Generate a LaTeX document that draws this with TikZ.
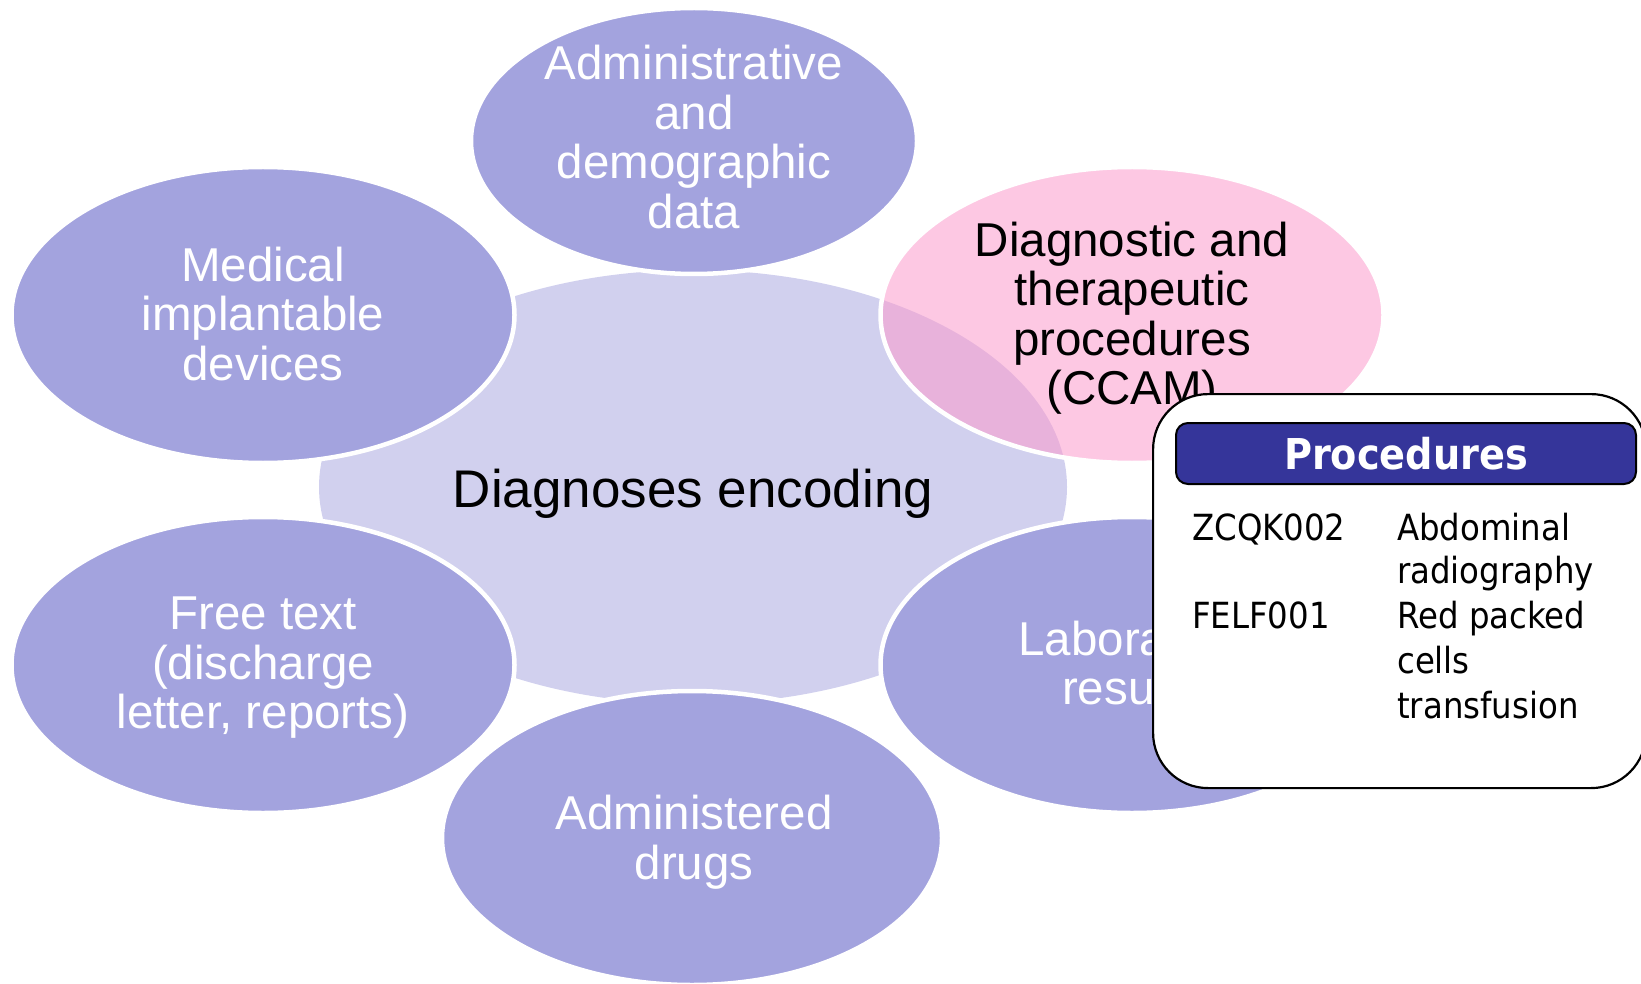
\documentclass[tikz,border=0pt]{standalone}
\usepackage{fontspec}
\setmainfont{Liberation Sans}
\newfontfamily\tahoma[FakeStretch=0.9]{DejaVu Sans}
\usetikzlibrary{shapes.geometric}
\definecolor{satfill}{HTML}{A3A3DE}
\definecolor{corefill}{HTML}{D1D0EE}
\definecolor{pinkfill}{HTML}{FB9BCC}
\definecolor{hdrfill}{HTML}{35359A}
\begin{document}
\begin{tikzpicture}[x=1pt,y=-1pt,
  blob/.style={ellipse, inner sep=0pt, draw=white, line width=4.5pt, fill=satfill},
  bigblob/.style={blob, minimum width=503pt, minimum height=296pt},
  sattxt/.style={text=white, align=center, inner sep=0pt, font=\fontsize{47.5}{49.5}\selectfont},
  boxtxt/.style={anchor=base west, inner sep=0pt, font=\tahoma\fontsize{36}{44.5}\selectfont}]
\useasboundingbox (0,0) rectangle (1641,984);
\clip (0,0) rectangle (1641,984);
% central ellipse
\node[ellipse, inner sep=0pt, fill=corefill, minimum width=748pt, minimum height=434pt] (core) at (693,487) {};
% satellites
\node[blob, minimum width=446pt, minimum height=266pt] (admin) at (694,141) {};
\node[bigblob] (medical) at (263,315) {};
\node[bigblob, fill=pinkfill, fill opacity=0.55] (ccam) at (1132,315) {};
\node[bigblob] (free) at (263,665) {};
\node[bigblob] (lab) at (1132,665) {};
\node[bigblob, minimum width=500pt, minimum height=294pt] (drugs) at (692,838) {};
% texts
\node[font=\fontsize{53}{60}\selectfont, inner sep=0pt] (coretxt) at (693,494) {Diagnoses encoding};
\node[sattxt] (admintxt) at (694,137) {Administrative\\and\\demographic\\data};
\node[sattxt] (medicaltxt) at (263,314) {Medical\\implantable\\devices};
\node[sattxt, text=black] (ccamtxt) at (1132,318) {Diagnostic and\\therapeutic\\procedures\\(CCAM)};
\node[sattxt] (freetxt) at (263,668) {Free text\\(discharge\\letter, reports)};
\node[sattxt] (labtxt) at (1132,663) {Laboratory\\results};
\node[sattxt] (drugstxt) at (694,842) {Administered\\drugs};
% procedures box
\node[draw=black, line width=2.2pt, fill=white, rounded corners=55pt, minimum width=493pt, minimum height=394pt, inner sep=0pt, anchor=north west] (box) at (1152,393) {};
\node[draw=black, line width=2pt, fill=hdrfill, rounded corners=12pt, minimum width=460pt, minimum height=61pt, inner sep=0pt, anchor=north west] (hdr) at (1175,422) {};
\node[text=white, inner sep=0pt, font=\tahoma\bfseries\fontsize{42.5}{48}\selectfont] (hdrtxt) at (hdr.center) {Procedures};
\node[boxtxt] (c1) at (1192,540) {ZCQK002};
\node[boxtxt] (c2) at (1192,628) {FELF001};
\node[boxtxt] (d1) at (1397,540) {Abdominal};
\node[boxtxt] (d2) at (1397,583) {radiography};
\node[boxtxt] (d3) at (1397,628) {Red packed};
\node[boxtxt] (d4) at (1397,673) {cells};
\node[boxtxt] (d5) at (1397,718) {transfusion};
\end{tikzpicture}
\end{document}
